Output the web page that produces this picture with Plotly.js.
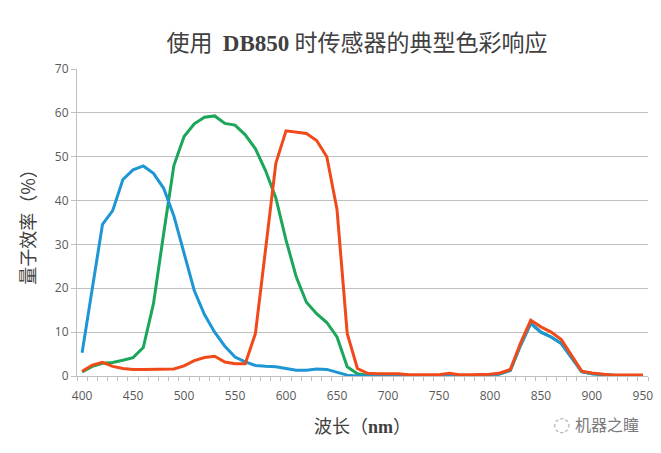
<!DOCTYPE html>
<html>
<head>
<meta charset="utf-8">
<script src="https://cdn.plot.ly/plotly-3.0.1.min.js"></script>
<style>
  html, body { margin: 0; padding: 0; background: #fff; }
  #chart { width: 661px; height: 453px; }
</style>
</head>
<body>
<div id="chart"></div>
<script>
var wavelength = [400, 410, 420, 430, 440, 450, 460, 470, 480, 490,
                  500, 510, 520, 530, 540, 550, 560, 570, 580, 590,
                  600, 610, 620, 630, 640, 650, 660, 670, 680, 690,
                  700, 710, 720, 730, 740, 750, 760, 770, 780, 790,
                  800, 810, 820, 830, 840, 850, 860, 870, 880, 890,
                  900, 910, 920, 930, 940, 950];

var blueQE = [5.3, 20, 34.6, 37.7, 44.8, 47, 47.9, 46.2, 42.8, 36.5,
              28, 19.5, 14, 10, 6.8, 4.3, 3.2, 2.4, 2.2, 2.1,
              1.7, 1.3, 1.3, 1.6, 1.5, 0.9, 0.2, 0, 0, 0,
              0, 0, 0, 0, 0, 0, 0, 0, 0, 0,
              0, 0.5, 1.3, 7, 12, 10, 8.9, 7.4, 4.2, 1,
              0.5, 0.3, 0.1, 0, 0, 0];

var greenQE = [0.9, 2.2, 2.9, 3.1, 3.6, 4.2, 6.5, 16.5, 32.5, 48,
               54.6, 57.5, 59, 59.3, 57.6, 57.2, 55, 51.8, 46.8, 40.6,
               31, 22.6, 16.8, 14.2, 12.2, 8.9, 2.1, 0.5, 0.2, 0,
               0, 0, 0, 0, 0, 0, 0, 0, 0, 0,
               0, 0.5, 1.3, 7, 12, 10, 8.9, 7.4, 4.2, 1,
               0.5, 0.3, 0.1, 0, 0, 0];

var redQE = [1.1, 2.5, 3.1, 2.2, 1.7, 1.5, 1.5, 1.5, 1.5, 1.6,
             2.3, 3.5, 4.2, 4.5, 3.2, 2.8, 2.8, 9.7, 29, 48.5,
             55.9, 55.6, 55.3, 53.7, 50, 38, 9.7, 1.7, 0.6, 0.5,
             0.5, 0.5, 0.3, 0.3, 0.3, 0.3, 0.6, 0.3, 0.3, 0.3,
             0.4, 0.7, 1.5, 7.5, 12.7, 11.2, 10, 8.3, 4.7, 1.1,
             0.7, 0.4, 0.2, 0.2, 0.2, 0.2];

var xTicks = [400, 450, 500, 550, 600, 650, 700, 750, 800, 850, 900, 950];

var gridGray = "#c0c0c0";
var textGray = "#595959";

var traceGreen = {
    type: "scatter",
    mode: "lines",
    name: "G",
    x: wavelength,
    y: greenQE,
    line: {color: "#1ba65a", width: 3}
};
var traceBlue = {
    type: "scatter",
    mode: "lines",
    name: "B",
    x: wavelength,
    y: blueQE,
    line: {color: "#1e96d4", width: 3}
};
var traceRed = {
    type: "scatter",
    mode: "lines",
    name: "R",
    x: wavelength,
    y: redQE,
    line: {color: "#f04a1a", width: 3}
};

var data = [traceGreen, traceBlue, traceRed];

var layout = {
    width: 661,
    height: 453,
    margin: {l: 77, r: 13, t: 69, b: 77},
    paper_bgcolor: "#ffffff",
    plot_bgcolor: "#ffffff",
    showlegend: false,
    font: {family: "Noto Sans CJK SC, Noto Sans, sans-serif", color: textGray},
    title: {
        text: '使用  <span style="font-family:Liberation Serif;font-weight:bold">DB850</span> 时传感器的典型色彩响应',
        font: {size: 23, color: "#404040", family: "Noto Sans CJK SC"},
        x: 357 / 661,
        xref: "container",
        xanchor: "center",
        y: 1 - 43 / 453,
        yref: "container",
        yanchor: "middle"
    },
    xaxis: {
        range: [395, 955],
        tickmode: "array",
        tickvals: xTicks,
        ticks: "",
        ticklabelstandoff: 9,
        showgrid: false,
        zeroline: false,
        showline: true,
        linecolor: gridGray,
        linewidth: 1,
        tickfont: {size: 12, color: textGray, family: "Open Sans"},
        minor: {
            tickmode: "linear",
            tick0: 395,
            dtick: 10,
            ticks: "outside",
            ticklen: 4,
            tickcolor: gridGray,
            showgrid: false
        },
        title: {
            text: '波长（<span style="font-family:Liberation Serif;font-weight:bold">nm</span>）',
            font: {size: 18, color: "#404040", family: "Noto Sans CJK SC"},
            standoff: 16
        }
    },
    yaxis: {
        range: [0, 70],
        tickmode: "linear",
        tick0: 0,
        dtick: 10,
        ticks: "outside",
        ticklen: 5,
        tickcolor: gridGray,
        showgrid: true,
        gridcolor: gridGray,
        gridwidth: 1,
        zeroline: false,
        showline: true,
        linecolor: gridGray,
        linewidth: 1,
        tickfont: {size: 12, color: textGray, family: "Open Sans"},
        title: {
            text: "量子效率（%）",
            font: {size: 18, color: "#404040", family: "Noto Sans CJK SC"},
            standoff: 14
        }
    },
    annotations: [{
        text: "机器之瞳",
        xref: "paper",
        yref: "paper",
        x: (607 - 77) / 571,
        y: (453 - 424 - 77) / 307,
        xanchor: "center",
        yanchor: "middle",
        showarrow: false,
        font: {size: 16, color: "#7a7a7a", family: "Noto Sans CJK SC"}
    }, {
        text: "◌",
        xref: "paper",
        yref: "paper",
        x: (561 - 77) / 571,
        y: (453 - 424 - 77) / 307,
        xanchor: "center",
        yanchor: "middle",
        showarrow: false,
        font: {size: 20, color: "#b0b0b0", family: "DejaVu Sans"}
    }]
};

Plotly.newPlot("chart", data, layout, {displayModeBar: false, staticPlot: true});
</script>
</body>
</html>
